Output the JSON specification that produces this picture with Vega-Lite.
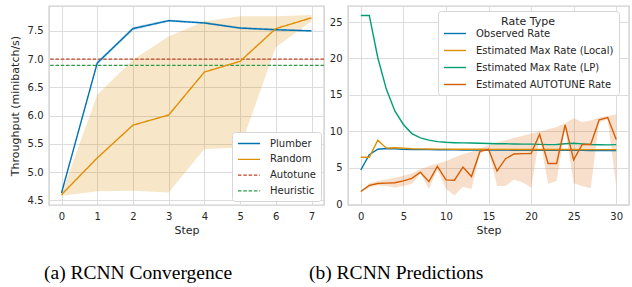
{
  "$schema": "https://vega.github.io/schema/vega-lite/v6.json",
  "autosize": {"type": "pad"},
  "padding": {"left": 8, "top": 5, "right": 2, "bottom": 0},
  "background": "white",
  "config": {
    "font": "DejaVu Sans",
    "view": {"stroke": "#cfcfcf", "strokeWidth": 1.4},
    "axis": {
      "domain": false, "ticks": false, "labelPadding": 6, "labelOverlap": false, "tickCount": 20,
      "labelFontSize": 10, "titleFontSize": 11, "titleFontWeight": "normal",
      "labelColor": "#262626", "titleColor": "#262626",
      "gridColor": "#dcdcdc", "gridWidth": 1
    },
    "legend": {
      "labelFontSize": 10, "labelColor": "#262626", "titleColor": "#262626",
      "titleFontSize": 11, "titleFontWeight": "normal",
      "fillColor": "white", "strokeColor": "#d6d6d6", "cornerRadius": 3, "padding": 5
    }
  },
  "datasets": {
    "left_lines": [
      {"step": 0, "series": "Plumber", "value": 4.63},
      {"step": 1, "series": "Plumber", "value": 6.93},
      {"step": 2, "series": "Plumber", "value": 7.54},
      {"step": 3, "series": "Plumber", "value": 7.68},
      {"step": 4, "series": "Plumber", "value": 7.64},
      {"step": 5, "series": "Plumber", "value": 7.55},
      {"step": 6, "series": "Plumber", "value": 7.52},
      {"step": 7, "series": "Plumber", "value": 7.50},
      {"step": 0, "series": "Random", "value": 4.60},
      {"step": 1, "series": "Random", "value": 5.25},
      {"step": 2, "series": "Random", "value": 5.83},
      {"step": 3, "series": "Random", "value": 6.01},
      {"step": 4, "series": "Random", "value": 6.77},
      {"step": 5, "series": "Random", "value": 6.96},
      {"step": 6, "series": "Random", "value": 7.54},
      {"step": 7, "series": "Random", "value": 7.73}
    ],
    "left_band": [
      {"step": 0, "series": "Plumber", "lo": 4.61, "hi": 4.65},
      {"step": 1, "series": "Plumber", "lo": 6.90, "hi": 6.96},
      {"step": 2, "series": "Plumber", "lo": 7.51, "hi": 7.57},
      {"step": 3, "series": "Plumber", "lo": 7.66, "hi": 7.70},
      {"step": 4, "series": "Plumber", "lo": 7.62, "hi": 7.66},
      {"step": 5, "series": "Plumber", "lo": 7.53, "hi": 7.57},
      {"step": 6, "series": "Plumber", "lo": 7.50, "hi": 7.54},
      {"step": 7, "series": "Plumber", "lo": 7.49, "hi": 7.51},
      {"step": 0, "series": "Random", "lo": 4.58, "hi": 4.61},
      {"step": 1, "series": "Random", "lo": 4.66, "hi": 6.37},
      {"step": 2, "series": "Random", "lo": 4.67, "hi": 6.99},
      {"step": 3, "series": "Random", "lo": 4.64, "hi": 7.40},
      {"step": 4, "series": "Random", "lo": 5.41, "hi": 7.67},
      {"step": 5, "series": "Random", "lo": 5.43, "hi": 7.76},
      {"step": 6, "series": "Random", "lo": 7.21, "hi": 7.76},
      {"step": 7, "series": "Random", "lo": 7.67, "hi": 7.78}
    ],
    "left_ref": [
      {"series": "Autotune", "value": 7.0},
      {"series": "Heuristic", "value": 6.89}
    ],
    "right_lines": [
      {"step": 0, "series": "Observed Rate", "value": 4.7},
      {"step": 1, "series": "Observed Rate", "value": 6.8},
      {"step": 2, "series": "Observed Rate", "value": 7.55},
      {"step": 3, "series": "Observed Rate", "value": 7.65},
      {"step": 4, "series": "Observed Rate", "value": 7.62},
      {"step": 5, "series": "Observed Rate", "value": 7.55},
      {"step": 6, "series": "Observed Rate", "value": 7.52},
      {"step": 7, "series": "Observed Rate", "value": 7.5},
      {"step": 8, "series": "Observed Rate", "value": 7.5},
      {"step": 9, "series": "Observed Rate", "value": 7.48},
      {"step": 10, "series": "Observed Rate", "value": 7.47},
      {"step": 11, "series": "Observed Rate", "value": 7.46},
      {"step": 12, "series": "Observed Rate", "value": 7.45},
      {"step": 13, "series": "Observed Rate", "value": 7.45},
      {"step": 14, "series": "Observed Rate", "value": 7.44},
      {"step": 15, "series": "Observed Rate", "value": 7.44},
      {"step": 16, "series": "Observed Rate", "value": 7.43},
      {"step": 17, "series": "Observed Rate", "value": 7.43},
      {"step": 18, "series": "Observed Rate", "value": 7.42},
      {"step": 19, "series": "Observed Rate", "value": 7.42},
      {"step": 20, "series": "Observed Rate", "value": 7.41},
      {"step": 21, "series": "Observed Rate", "value": 7.41},
      {"step": 22, "series": "Observed Rate", "value": 7.4},
      {"step": 23, "series": "Observed Rate", "value": 7.4},
      {"step": 24, "series": "Observed Rate", "value": 7.4},
      {"step": 25, "series": "Observed Rate", "value": 7.39},
      {"step": 26, "series": "Observed Rate", "value": 7.39},
      {"step": 27, "series": "Observed Rate", "value": 7.38},
      {"step": 28, "series": "Observed Rate", "value": 7.38},
      {"step": 29, "series": "Observed Rate", "value": 7.37},
      {"step": 30, "series": "Observed Rate", "value": 7.37},
      {"step": 0, "series": "Estimated Max Rate (Local)", "value": 6.45},
      {"step": 1, "series": "Estimated Max Rate (Local)", "value": 6.45},
      {"step": 2, "series": "Estimated Max Rate (Local)", "value": 8.8},
      {"step": 3, "series": "Estimated Max Rate (Local)", "value": 7.7},
      {"step": 4, "series": "Estimated Max Rate (Local)", "value": 7.75},
      {"step": 5, "series": "Estimated Max Rate (Local)", "value": 7.7},
      {"step": 6, "series": "Estimated Max Rate (Local)", "value": 7.62},
      {"step": 7, "series": "Estimated Max Rate (Local)", "value": 7.6},
      {"step": 8, "series": "Estimated Max Rate (Local)", "value": 7.58},
      {"step": 9, "series": "Estimated Max Rate (Local)", "value": 7.57},
      {"step": 10, "series": "Estimated Max Rate (Local)", "value": 7.56},
      {"step": 11, "series": "Estimated Max Rate (Local)", "value": 7.55},
      {"step": 12, "series": "Estimated Max Rate (Local)", "value": 7.55},
      {"step": 13, "series": "Estimated Max Rate (Local)", "value": 7.54},
      {"step": 14, "series": "Estimated Max Rate (Local)", "value": 7.54},
      {"step": 15, "series": "Estimated Max Rate (Local)", "value": 7.53},
      {"step": 16, "series": "Estimated Max Rate (Local)", "value": 7.53},
      {"step": 17, "series": "Estimated Max Rate (Local)", "value": 7.53},
      {"step": 18, "series": "Estimated Max Rate (Local)", "value": 7.52},
      {"step": 19, "series": "Estimated Max Rate (Local)", "value": 7.52},
      {"step": 20, "series": "Estimated Max Rate (Local)", "value": 7.52},
      {"step": 21, "series": "Estimated Max Rate (Local)", "value": 7.52},
      {"step": 22, "series": "Estimated Max Rate (Local)", "value": 7.51},
      {"step": 23, "series": "Estimated Max Rate (Local)", "value": 7.51},
      {"step": 24, "series": "Estimated Max Rate (Local)", "value": 7.51},
      {"step": 25, "series": "Estimated Max Rate (Local)", "value": 7.51},
      {"step": 26, "series": "Estimated Max Rate (Local)", "value": 7.5},
      {"step": 27, "series": "Estimated Max Rate (Local)", "value": 7.5},
      {"step": 28, "series": "Estimated Max Rate (Local)", "value": 7.5},
      {"step": 29, "series": "Estimated Max Rate (Local)", "value": 7.5},
      {"step": 30, "series": "Estimated Max Rate (Local)", "value": 7.5},
      {"step": 0, "series": "Estimated Max Rate (LP)", "value": 25.9},
      {"step": 1, "series": "Estimated Max Rate (LP)", "value": 25.9},
      {"step": 2, "series": "Estimated Max Rate (LP)", "value": 20.1},
      {"step": 3, "series": "Estimated Max Rate (LP)", "value": 15.8},
      {"step": 4, "series": "Estimated Max Rate (LP)", "value": 12.8},
      {"step": 5, "series": "Estimated Max Rate (LP)", "value": 10.95},
      {"step": 6, "series": "Estimated Max Rate (LP)", "value": 9.7},
      {"step": 7, "series": "Estimated Max Rate (LP)", "value": 9.1},
      {"step": 8, "series": "Estimated Max Rate (LP)", "value": 8.8},
      {"step": 9, "series": "Estimated Max Rate (LP)", "value": 8.6},
      {"step": 10, "series": "Estimated Max Rate (LP)", "value": 8.5},
      {"step": 11, "series": "Estimated Max Rate (LP)", "value": 8.45},
      {"step": 12, "series": "Estimated Max Rate (LP)", "value": 8.42},
      {"step": 13, "series": "Estimated Max Rate (LP)", "value": 8.4},
      {"step": 14, "series": "Estimated Max Rate (LP)", "value": 8.37},
      {"step": 15, "series": "Estimated Max Rate (LP)", "value": 8.33},
      {"step": 16, "series": "Estimated Max Rate (LP)", "value": 8.3},
      {"step": 17, "series": "Estimated Max Rate (LP)", "value": 8.3},
      {"step": 18, "series": "Estimated Max Rate (LP)", "value": 8.27},
      {"step": 19, "series": "Estimated Max Rate (LP)", "value": 8.25},
      {"step": 20, "series": "Estimated Max Rate (LP)", "value": 8.25},
      {"step": 21, "series": "Estimated Max Rate (LP)", "value": 8.22},
      {"step": 22, "series": "Estimated Max Rate (LP)", "value": 8.18},
      {"step": 23, "series": "Estimated Max Rate (LP)", "value": 8.2},
      {"step": 24, "series": "Estimated Max Rate (LP)", "value": 8.3},
      {"step": 25, "series": "Estimated Max Rate (LP)", "value": 8.38},
      {"step": 26, "series": "Estimated Max Rate (LP)", "value": 8.28},
      {"step": 27, "series": "Estimated Max Rate (LP)", "value": 8.2},
      {"step": 28, "series": "Estimated Max Rate (LP)", "value": 8.17},
      {"step": 29, "series": "Estimated Max Rate (LP)", "value": 8.15},
      {"step": 30, "series": "Estimated Max Rate (LP)", "value": 8.18},
      {"step": 0, "series": "Estimated AUTOTUNE Rate", "value": 1.75},
      {"step": 1, "series": "Estimated AUTOTUNE Rate", "value": 2.6},
      {"step": 2, "series": "Estimated AUTOTUNE Rate", "value": 2.85},
      {"step": 3, "series": "Estimated AUTOTUNE Rate", "value": 2.9},
      {"step": 4, "series": "Estimated AUTOTUNE Rate", "value": 2.95},
      {"step": 5, "series": "Estimated AUTOTUNE Rate", "value": 3.2},
      {"step": 6, "series": "Estimated AUTOTUNE Rate", "value": 3.55},
      {"step": 7, "series": "Estimated AUTOTUNE Rate", "value": 4.4},
      {"step": 8, "series": "Estimated AUTOTUNE Rate", "value": 3.1},
      {"step": 9, "series": "Estimated AUTOTUNE Rate", "value": 5.2},
      {"step": 10, "series": "Estimated AUTOTUNE Rate", "value": 3.35},
      {"step": 11, "series": "Estimated AUTOTUNE Rate", "value": 3.3},
      {"step": 12, "series": "Estimated AUTOTUNE Rate", "value": 5.1},
      {"step": 13, "series": "Estimated AUTOTUNE Rate", "value": 3.8},
      {"step": 14, "series": "Estimated AUTOTUNE Rate", "value": 7.25},
      {"step": 15, "series": "Estimated AUTOTUNE Rate", "value": 7.55},
      {"step": 16, "series": "Estimated AUTOTUNE Rate", "value": 4.55},
      {"step": 17, "series": "Estimated AUTOTUNE Rate", "value": 6.25},
      {"step": 18, "series": "Estimated AUTOTUNE Rate", "value": 6.9},
      {"step": 19, "series": "Estimated AUTOTUNE Rate", "value": 6.95},
      {"step": 20, "series": "Estimated AUTOTUNE Rate", "value": 6.95},
      {"step": 21, "series": "Estimated AUTOTUNE Rate", "value": 9.6},
      {"step": 22, "series": "Estimated AUTOTUNE Rate", "value": 5.6},
      {"step": 23, "series": "Estimated AUTOTUNE Rate", "value": 5.6},
      {"step": 24, "series": "Estimated AUTOTUNE Rate", "value": 10.9},
      {"step": 25, "series": "Estimated AUTOTUNE Rate", "value": 6.1},
      {"step": 26, "series": "Estimated AUTOTUNE Rate", "value": 8.2},
      {"step": 27, "series": "Estimated AUTOTUNE Rate", "value": 8.2},
      {"step": 28, "series": "Estimated AUTOTUNE Rate", "value": 11.6},
      {"step": 29, "series": "Estimated AUTOTUNE Rate", "value": 11.9},
      {"step": 30, "series": "Estimated AUTOTUNE Rate", "value": 8.9}
    ],
    "right_band": [
      {"step": 0, "lo": 1.7, "hi": 1.8},
      {"step": 1, "lo": 2.3, "hi": 2.9},
      {"step": 2, "lo": 2.6, "hi": 3.2},
      {"step": 3, "lo": 2.5, "hi": 3.4},
      {"step": 4, "lo": 2.3, "hi": 3.65},
      {"step": 5, "lo": 2.5, "hi": 3.9},
      {"step": 6, "lo": 2.8, "hi": 4.25},
      {"step": 7, "lo": 4.2, "hi": 4.8},
      {"step": 8, "lo": 2.1, "hi": 5.25},
      {"step": 9, "lo": 4.8, "hi": 5.6},
      {"step": 10, "lo": 2.1, "hi": 5.9},
      {"step": 11, "lo": 1.2, "hi": 6.4},
      {"step": 12, "lo": 2.4, "hi": 6.85},
      {"step": 13, "lo": 2.1, "hi": 7.2},
      {"step": 14, "lo": 7.0, "hi": 7.6},
      {"step": 15, "lo": 7.4, "hi": 8.1},
      {"step": 16, "lo": 2.5, "hi": 8.5},
      {"step": 17, "lo": 2.5, "hi": 8.8},
      {"step": 18, "lo": 3.4, "hi": 9.1},
      {"step": 19, "lo": 3.0, "hi": 9.4},
      {"step": 20, "lo": 2.3, "hi": 9.7},
      {"step": 21, "lo": 9.2, "hi": 10.0},
      {"step": 22, "lo": 2.8, "hi": 10.3},
      {"step": 23, "lo": 3.2, "hi": 10.6},
      {"step": 24, "lo": 10.4, "hi": 11.1},
      {"step": 25, "lo": 2.9, "hi": 11.8},
      {"step": 26, "lo": 2.5, "hi": 11.3},
      {"step": 27, "lo": 2.2, "hi": 11.5},
      {"step": 28, "lo": 11.3, "hi": 11.9},
      {"step": 29, "lo": 11.6, "hi": 12.1},
      {"step": 30, "lo": 2.4, "hi": 12.3}
    ]
  },
  "spacing": 24,
  "bounds": "flush",
  "resolve": {
    "scale": {"color": "independent", "strokeDash": "independent"},
    "legend": {"color": "independent", "strokeDash": "independent"}
  },
  "hconcat": [
    {
      "width": 275,
      "height": 199,
      "title": {"text": "(a) RCNN Convergence", "orient": "bottom", "anchor": "start", "frame": "group", "dx": -5, "offset": 29, "font": "Liberation Serif", "fontSize": 19.5, "fontWeight": "normal", "color": "#000000"},
      "layer": [
        {
          "data": {"name": "left_band"},
          "transform": [{"filter": "datum.series === 'Random'"}],
          "mark": {"type": "area", "color": "#de8f05", "opacity": 0.22},
          "encoding": {
            "x": {"field": "step", "type": "quantitative", "scale": {"domain": [-0.35, 7.35], "nice": false, "zero": false},
                  "axis": {"title": "Step", "values": [0, 1, 2, 3, 4, 5, 6, 7], "format": "d", "tickCount": 20, "titlePadding": 3}},
            "y": {"field": "lo", "type": "quantitative", "scale": {"domain": [4.417, 7.94], "nice": false, "zero": false},
                  "axis": {"title": "Throughput (minibatch/s)", "values": [4.5, 5.0, 5.5, 6.0, 6.5, 7.0, 7.5], "tickCount": 20, "format": ".1f", "titlePadding": 7}},
            "y2": {"field": "hi"}
          }
        },
        {
          "data": {"name": "left_band"},
          "transform": [{"filter": "datum.series === 'Plumber'"}],
          "mark": {"type": "area", "color": "#0173b2", "opacity": 0.25},
          "encoding": {
            "x": {"field": "step", "type": "quantitative"},
            "y": {"field": "lo", "type": "quantitative"},
            "y2": {"field": "hi"}
          }
        },
        {
          "data": {"name": "left_ref"},
          "mark": {"type": "rule", "strokeWidth": 1.3},
          "encoding": {
            "y": {"field": "value", "type": "quantitative"},
            "color": {"field": "series", "type": "nominal",
                      "scale": {"domain": ["Plumber", "Random", "Autotune", "Heuristic"], "range": ["#0173b2", "#de8f05", "#c0452a", "#2e9a45"]},
                      "legend": {"orient": "none", "legendX": 183, "legendY": 126, "title": null, "symbolType": "M-1,0H3", "symbolSize": 121, "symbolStrokeWidth": 1.3, "rowPadding": 3.8, "labelOffset": 20}},
            "strokeDash": {"field": "series", "type": "nominal",
                      "scale": {"domain": ["Plumber", "Random", "Autotune", "Heuristic"], "range": [[1, 0], [1, 0], [3.5, 1.8], [3.5, 1.8]]},
                      "legend": {"orient": "none", "legendX": 183, "legendY": 126, "title": null, "symbolType": "M-1,0H3", "symbolSize": 121, "symbolStrokeWidth": 1.3, "rowPadding": 3.8, "labelOffset": 20}}
          }
        },
        {
          "data": {"name": "left_lines"},
          "mark": {"type": "line", "strokeWidth": 1.4},
          "encoding": {
            "x": {"field": "step", "type": "quantitative"},
            "y": {"field": "value", "type": "quantitative"},
            "color": {"field": "series", "type": "nominal"},
            "strokeDash": {"field": "series", "type": "nominal"}
          }
        }
      ]
    },
    {
      "width": 281,
      "height": 199,
      "title": {"text": "(b) RCNN Predictions", "orient": "bottom", "anchor": "start", "frame": "group", "dx": -39, "offset": 29, "font": "Liberation Serif", "fontSize": 19.5, "fontWeight": "normal", "color": "#000000"},
      "layer": [
        {
          "data": {"name": "right_band"},
          "mark": {"type": "area", "color": "#d55e00", "opacity": 0.2},
          "encoding": {
            "x": {"field": "step", "type": "quantitative", "scale": {"domain": [-1.5, 31.5], "nice": false, "zero": false},
                  "axis": {"title": "Step", "values": [0, 5, 10, 15, 20, 25, 30], "format": "d", "tickCount": 20, "titlePadding": 3}},
            "y": {"field": "lo", "type": "quantitative", "scale": {"domain": [-0.1, 27.2], "nice": false, "zero": false},
                  "axis": {"title": null, "values": [0, 5, 10, 15, 20, 25], "format": "d", "tickCount": 20}},
            "y2": {"field": "hi"}
          }
        },
        {
          "data": {"name": "right_lines"},
          "mark": {"type": "line", "strokeWidth": 1.4},
          "encoding": {
            "x": {"field": "step", "type": "quantitative"},
            "y": {"field": "value", "type": "quantitative"},
            "color": {"field": "series", "type": "nominal",
                      "scale": {"domain": ["Observed Rate", "Estimated Max Rate (Local)", "Estimated Max Rate (LP)", "Estimated AUTOTUNE Rate"], "range": ["#0173b2", "#de8f05", "#029e73", "#d55e00"]},
                      "legend": {"orient": "none", "legendX": 90, "legendY": 5, "title": "Rate Type", "titleAnchor": "middle", "titlePadding": 0, "symbolType": "M-1,0H3", "symbolSize": 121, "symbolStrokeWidth": 1.4, "rowPadding": 5, "labelOffset": 20}}
          }
        }
      ]
    }
  ]
}
